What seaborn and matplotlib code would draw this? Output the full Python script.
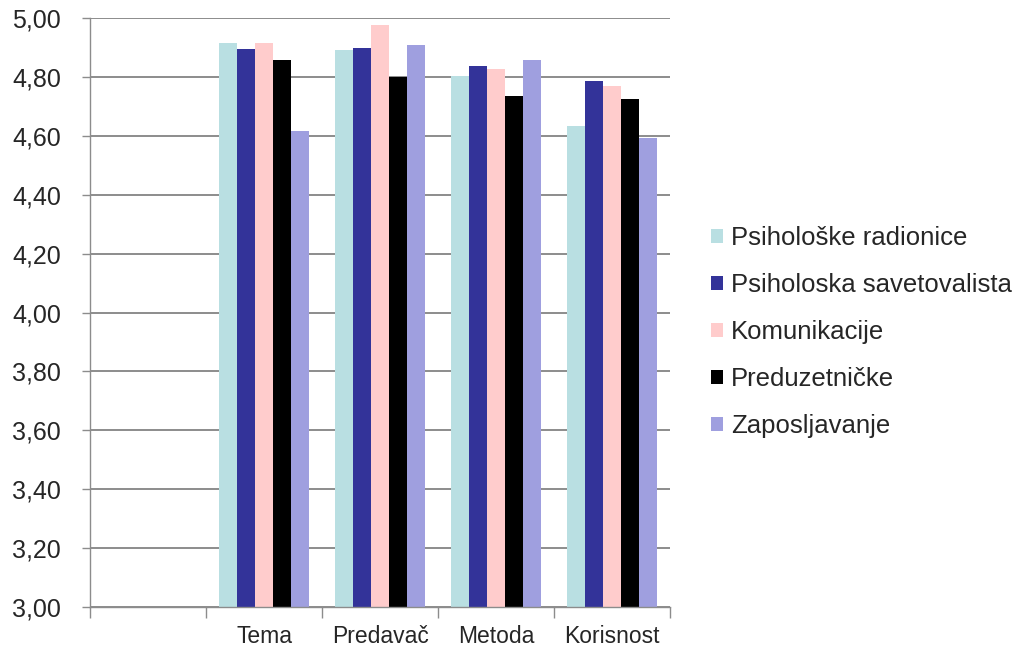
import matplotlib
matplotlib.use("Agg")
import matplotlib.pyplot as plt
import seaborn as sns
import pandas as pd
from matplotlib.ticker import FixedLocator

categories = ["", "Tema", "Predavač", "Metoda", "Korisnost"]
series = ["Psihološke radionice", "Psiholoska savetovalista", "Komunikacije",
          "Preduzetničke", "Zaposljavanje"]
radionice = [4.915, 4.891, 4.805, 4.633]
savetovalista = [4.894, 4.900, 4.837, 4.788]
komunikacije = [4.915, 4.975, 4.827, 4.770]
preduzetnicke = [4.856, 4.800, 4.734, 4.726]
zaposljavanje = [4.615, 4.907, 4.857, 4.594]
colors = ["#B9DFE2", "#333399", "#FFCCCC", "#000000", "#9F9FDF"]
yticks = [3.0, 3.2, 3.4, 3.6, 3.8, 4.0, 4.2, 4.4, 4.6, 4.8, 5.0]

rows = []
for name, vals in zip(series, [radionice, savetovalista, komunikacije,
                               preduzetnicke, zaposljavanje]):
    for cat, v in zip(categories[1:], vals):
        rows.append({"kategorija": cat, "serija": name, "ocena": v})
df = pd.DataFrame(rows)

sns.set_theme(style="white")
plt.rcParams["font.family"] = ["Liberation Sans", "DejaVu Sans"]

fig = plt.figure(figsize=(10.23, 6.51), dpi=100)
ax = fig.add_axes([0.088, 0.0676, 0.567, 0.9046])

sns.barplot(data=df, x="kategorija", y="ocena", hue="serija",
            order=categories, hue_order=series, palette=colors,
            width=0.78, saturation=1, linewidth=0, ax=ax, legend=True)

ax.set_ylim(3.0, 5.0)
ax.set_xlim(-0.5, len(categories) - 0.5)
ax.set_yticks(yticks)
ax.set_yticklabels([f"{t:.2f}".replace(".", ",") for t in yticks], fontsize=18)
ax.yaxis.grid(True, color="#8c8c8c", linewidth=1.4)
ax.set_axisbelow(True)
ax.set_xlabel("")
ax.set_ylabel("")

ax.set_xticks(range(len(categories)))
ax.set_xticklabels(categories, fontsize=16.5)
ax.xaxis.set_minor_locator(FixedLocator([i - 0.5 for i in range(len(categories) + 1)]))
ax.tick_params(axis="x", which="major", length=0, pad=13)
ax.tick_params(axis="x", which="minor", length=8, width=1, color="#8c8c8c",
               direction="out", bottom=True)
ax.tick_params(axis="y", which="major", length=6, width=1, color="#8c8c8c",
               direction="out", left=True, pad=15)

for s in ["top", "right"]:
    ax.spines[s].set_visible(False)
for s in ["left", "bottom"]:
    ax.spines[s].set_color("#8c8c8c")
    ax.spines[s].set_linewidth(1)

handles, labels = ax.get_legend_handles_labels()
ax.legend(handles, labels, loc="center left", bbox_to_anchor=(0.695, 0.49),
          bbox_transform=fig.transFigure, frameon=False, fontsize=18.5,
          handlelength=0.47, handleheight=0.47, handletextpad=0.31,
          labelspacing=0.9, borderpad=0, borderaxespad=0)

fig.savefig("out.png", dpi=100)
